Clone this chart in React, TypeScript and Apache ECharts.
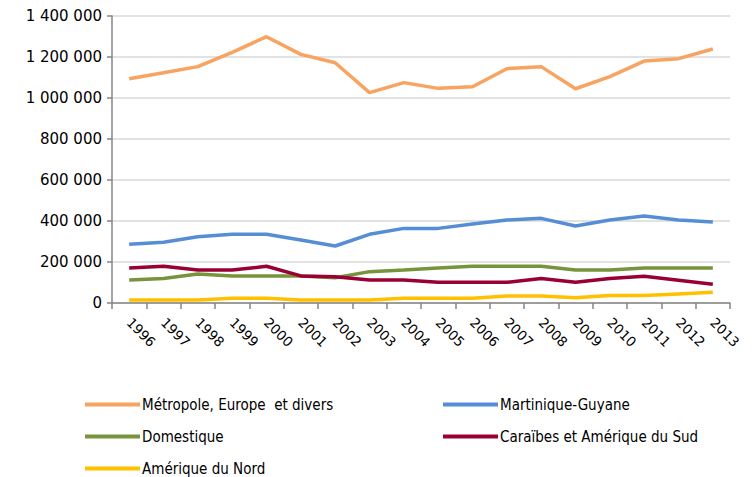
import React, { useEffect, useRef } from "react";
import * as echarts from "echarts";

const years = ["1996","1997","1998","1999","2000","2001","2002","2003","2004","2005","2006","2007","2008","2009","2010","2011","2012","2013"];
const metropole = [1094000,1123000,1153000,1223000,1299000,1213000,1172000,1026000,1075000,1047000,1055000,1143000,1153000,1045000,1104000,1180000,1192000,1239000];
const martinique = [286000,296000,323000,335000,335000,307000,278000,335000,364000,364000,385000,405000,413000,376000,405000,424000,405000,395000];
const domestique = [112000,120000,141000,132000,132000,132000,123000,153000,161000,171000,179000,179000,179000,161000,161000,171000,171000,171000];
const caraibes = [171000,179000,161000,161000,179000,132000,128000,112000,112000,101000,101000,101000,120000,101000,120000,130000,111000,91000];
const ameriqueNord = [15000,15000,15000,23000,23000,15000,15000,15000,23000,23000,23000,34000,34000,26000,36000,36000,44000,52000];

const seriesNames = ["Métropole, Europe  et divers","Martinique-Guyane","Domestique","Caraïbes et Amérique du Sud","Amérique du Nord"];
const seriesData = [metropole, martinique, domestique, caraibes, ameriqueNord];
const seriesColors = ["#F9A360","#558ED5","#77933C","#990033","#FFC000"];
const legendPos = [[85,397],[443,397],[85,429],[443,429],[85,461]];

const fmt = (v: number) => String(v).replace(/\B(?=(\d{3})+(?!\d))/g, " ");

export default function App() {
  const ref = useRef<HTMLDivElement>(null);
  useEffect(() => {
    if (!ref.current) return;
    const chart = echarts.init(ref.current, null, { renderer: "svg" });
    chart.setOption({
      animation: false,
      backgroundColor: "#fff",
      grid: { left: 112, top: 16, right: 23, bottom: 174, containLabel: false },
      legend: seriesNames.map((n, i) => ({
        data: [n],
        left: legendPos[i][0],
        top: legendPos[i][1],
        icon: "rect",
        itemWidth: 55,
        itemHeight: 4,
        itemGap: 0,
        padding: 0,
        textStyle: { fontFamily: "Liberation Sans Narrow, DejaVu Sans Condensed, Liberation Sans", fontSize: 15, color: "#000", padding: [0, 0, 0, -3] },
      })),
      xAxis: {
        type: "category",
        data: years,
        boundaryGap: true,
        axisLine: { lineStyle: { color: "#868686", width: 1.5 } },
        axisTick: { show: true, length: 6, lineStyle: { color: "#868686", width: 1.5 } },
        axisLabel: { fontFamily: "DejaVu Sans", fontSize: 13.5, color: "#000", rotate: -45, margin: 17, interval: 0 },
      },
      yAxis: {
        type: "value",
        min: 0,
        max: 1400000,
        interval: 200000,
        axisLine: { show: true, lineStyle: { color: "#868686", width: 1.5 } },
        axisTick: { show: true, length: 5, lineStyle: { color: "#868686", width: 1.5 } },
        splitLine: { lineStyle: { color: "#D9D9D9", width: 1.5 } },
        axisLabel: { fontFamily: "DejaVu Sans", fontSize: 15, color: "#000", margin: 10, formatter: (v: number) => fmt(v) },
      },
      series: seriesNames.map((n, i) => ({
        name: n,
        type: "line",
        data: seriesData[i],
        symbol: "none",
        lineStyle: { color: seriesColors[i], width: 3.5 },
        itemStyle: { color: seriesColors[i] },
      })),
    });
    return () => chart.dispose();
  }, []);
  return <div ref={ref} style={{ width: 753, height: 477, position: "absolute", left: 0, top: 0 }} />;
}
